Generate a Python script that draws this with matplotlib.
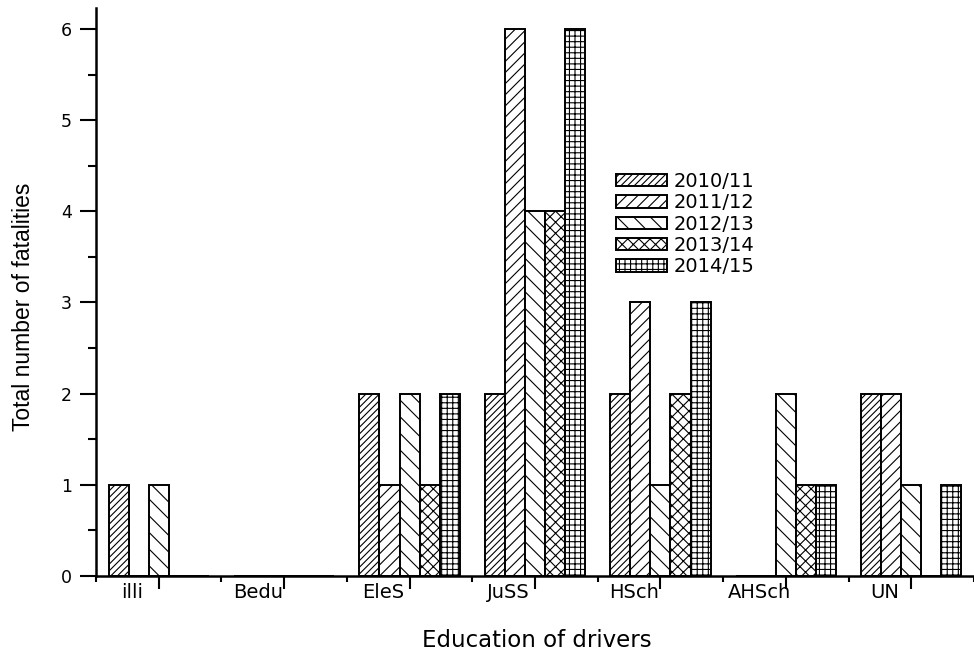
import numpy as np
import matplotlib
matplotlib.use("Agg")
import matplotlib.pyplot as plt
from matplotlib.ticker import MultipleLocator

plt.rcParams['font.family'] = ['DejaVu Sans']
plt.rcParams['hatch.linewidth'] = 0.8
plt.rcParams['hatch.color'] = 'black'

# fatalities by driver education, one series per year
categories = ['illi', 'Bedu', 'EleS', 'JuSS', 'HSch', 'AHSch', 'UN']
years = ['2010/11', '2011/12', '2012/13', '2013/14', '2014/15']
y2010 = [1, 0, 2, 2, 2, 0, 2]
y2011 = [0, 0, 1, 6, 3, 0, 2]
y2012 = [1, 0, 2, 4, 1, 2, 1]
y2013 = [0, 0, 1, 4, 2, 1, 0]
y2014 = [0, 0, 2, 6, 3, 1, 1]
series = [y2010, y2011, y2012, y2013, y2014]
hatches = ['/////', '///', '\\\\', 'xxx', '+++']

fig = plt.figure(figsize=(9.74, 6.55), dpi=100)
ax = fig.add_axes([96 / 974, 79 / 655, 878 / 974, 568 / 655])

x = np.arange(len(categories))
w = 0.16
handles = []
for k, (vals, h) in enumerate(zip(series, hatches)):
    b = ax.bar(x + (k - 2) * w, vals, w, facecolor='white', edgecolor='black',
               linewidth=1.4, hatch=h, label=years[k])
    handles.append(b)

ax.set_xlim(-0.49, 6.44)
ax.set_ylim(0, 6.23)

for s in ['top', 'right']:
    ax.spines[s].set_visible(False)
for s in ['left', 'bottom']:
    ax.spines[s].set_linewidth(1.8)

# y axis ticks
ax.yaxis.set_major_locator(MultipleLocator(1))
ax.yaxis.set_minor_locator(MultipleLocator(0.5))
ax.tick_params(axis='y', which='major', length=11.5, width=1.5, pad=6, labelsize=12.5)
ax.tick_params(axis='y', which='minor', length=5.8, width=1.5)

# x axis: long ticks at group centres, short ones in between
ax.set_xticks(x)
ax.set_xticks(np.arange(-0.5, 7.0, 1.0), minor=True)
ax.tick_params(axis='x', which='major', length=9.4, width=1.5, labelbottom=False)
ax.tick_params(axis='x', which='minor', length=4.3, width=1.5)

for i, name in enumerate(categories):
    ax.text(i - 0.21, -0.012, name, transform=ax.get_xaxis_transform(),
            ha='center', va='top', fontsize=14)

fig.text(537 / 974, 1 - 647 / 655, 'Education of drivers', ha='center',
         va='baseline', fontsize=16.5)
fig.text(24 / 974, 1 - 307 / 655, 'Total number of fatalities', rotation=90,
         ha='center', va='center', fontsize=16.5, family='Liberation Sans')

leg = ax.legend(handles=handles, loc='upper left',
                bbox_to_anchor=(616 / 974, 1 - 172 / 655),
                bbox_transform=fig.transFigure, frameon=False, fontsize=14,
                borderaxespad=0, borderpad=0, handlelength=2.6,
                handleheight=0.62, handletextpad=0.35, labelspacing=0.12)

fig.savefig('out.png', dpi=100)
